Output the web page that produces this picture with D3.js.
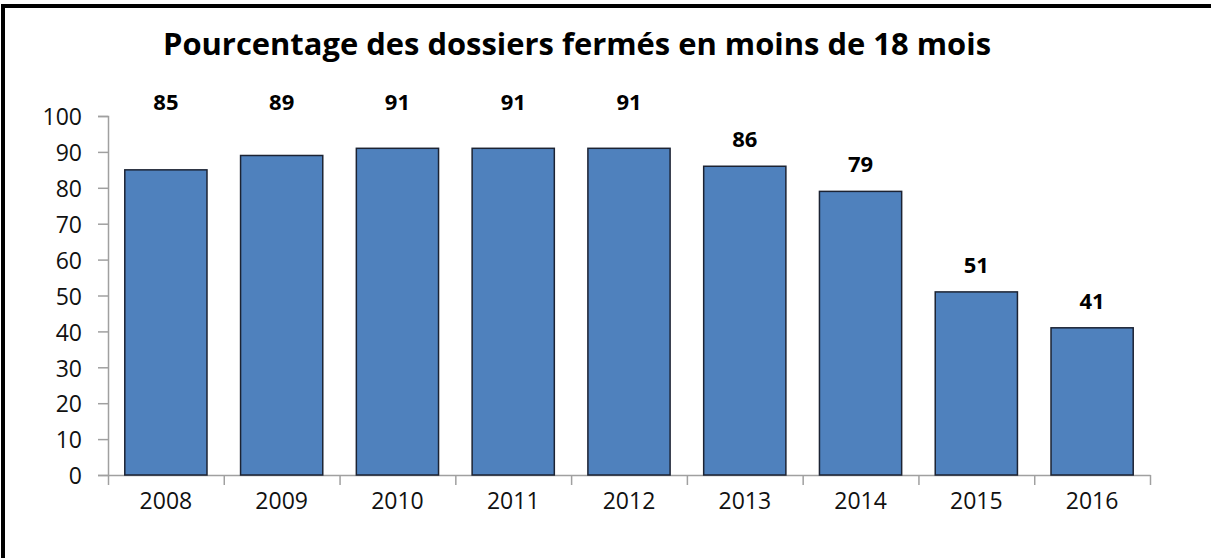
<!DOCTYPE html>
<html>
<head>
<meta charset="utf-8">
<script src="https://cdn.jsdelivr.net/npm/d3@7"></script>
<style>
  html, body { margin: 0; padding: 0; background: #fff; overflow: hidden; }
</style>
</head>
<body>
<div id="chart"></div>
<script>
const title = 'Pourcentage des dossiers fermés en moins de 18 mois';
const years = ['2008', '2009', '2010', '2011', '2012', '2013', '2014', '2015', '2016'];
const values = [85, 89, 91, 91, 91, 86, 79, 51, 41];
// labels that Excel pushed up to the top of the plot area
const pinnedYears = ['2008', '2009', '2010', '2011', '2012'];
const yTicks = [0, 10, 20, 30, 40, 50, 60, 70, 80, 90, 100];

const width = 1211;
const height = 558;
const plotLeft = 108, plotRight = 1150, plotTop = 116, plotBottom = 475;

const svg = d3.select('#chart')
  .append('svg')
    .attr('width', width)
    .attr('height', height)
    .attr('viewBox', `0 0 ${width} ${height}`);

// frame (only top and left edges fall inside the picture)
svg.append('rect')
  .attr('x', 3)
  .attr('y', 6)
  .attr('width', width + 20)
  .attr('height', height + 20)
  .attr('fill', 'none')
  .attr('stroke', '#000')
  .attr('stroke-width', 4);

svg.append('text')
  .attr('x', 163)
  .attr('y', 55)
  .attr('font-family', '"Open Sans", sans-serif')
  .attr('font-weight', 'bold')
  .attr('font-size', '31px')
  .attr('textLength', 828)
  .attr('lengthAdjust', 'spacingAndGlyphs')
  .attr('fill', '#000')
  .text(title);

const x = d3.scaleBand()
  .domain(years)
  .range([plotLeft, plotRight])
  .paddingInner(0.29)
  .paddingOuter(0.145);

const y = d3.scaleLinear()
  .domain([0, 100])
  .range([plotBottom, plotTop]);

const xb = d3.scaleLinear()
  .domain([0, years.length])
  .range([plotLeft, plotRight]);

const axisColor = '#a0a0a0';

// y axis
const gy = svg.append('g')
  .attr('transform', `translate(${plotLeft},0)`)
  .call(d3.axisLeft(y).tickValues(yTicks).tickSize(10).tickPadding(16));
gy.select('.domain').attr('stroke', axisColor).attr('stroke-width', 1.5);
gy.selectAll('.tick line').attr('stroke', axisColor).attr('stroke-width', 1.5);
gy.selectAll('.tick text')
  .attr('font-family', '"Open Sans", sans-serif')
  .attr('font-size', '23px')
  .attr('fill', '#111')
  .attr('dy', '0.38em');

// x axis boundary ticks
const gxb = svg.append('g')
  .attr('transform', `translate(0,${plotBottom})`)
  .call(d3.axisBottom(xb).ticks(years.length).tickFormat('').tickSize(10).tickSizeOuter(0));
gxb.select('.domain').attr('stroke', axisColor).attr('stroke-width', 1.5);
gxb.selectAll('.tick line').attr('stroke', axisColor).attr('stroke-width', 1.5);

// x labels
const gx = svg.append('g')
  .attr('transform', `translate(0,${plotBottom})`)
  .call(d3.axisBottom(x).tickSize(0).tickPadding(18));
gx.select('.domain').remove();
gx.selectAll('.tick text')
  .attr('font-family', '"Open Sans", sans-serif')
  .attr('font-size', '23px')
  .attr('fill', '#111')
  .attr('dy', '0.71em');

const data = years.map((yr, i) => ({ year: yr, value: values[i] }));

svg.append('g')
  .selectAll('rect')
  .data(data)
  .enter().append('rect')
    .attr('x', d => x(d.year))
    .attr('y', d => y(d.value))
    .attr('width', x.bandwidth())
    .attr('height', d => y(0) - y(d.value))
    .attr('fill', '#4f81bd')
    .attr('stroke', '#1c2333')
    .attr('stroke-width', 1.5);

svg.append('g')
  .selectAll('text')
  .data(data)
  .enter().append('text')
    .attr('x', d => x(d.year) + x.bandwidth() / 2)
    .attr('y', d => pinnedYears.includes(d.year) ? y(100) - 6 : y(d.value) - 19)
    .attr('text-anchor', 'middle')
    .attr('font-family', '"Open Sans", sans-serif')
    .attr('font-weight', 'bold')
    .attr('font-size', '22px')
    .attr('fill', '#000')
    .text(d => d.value);
</script>
</body>
</html>
